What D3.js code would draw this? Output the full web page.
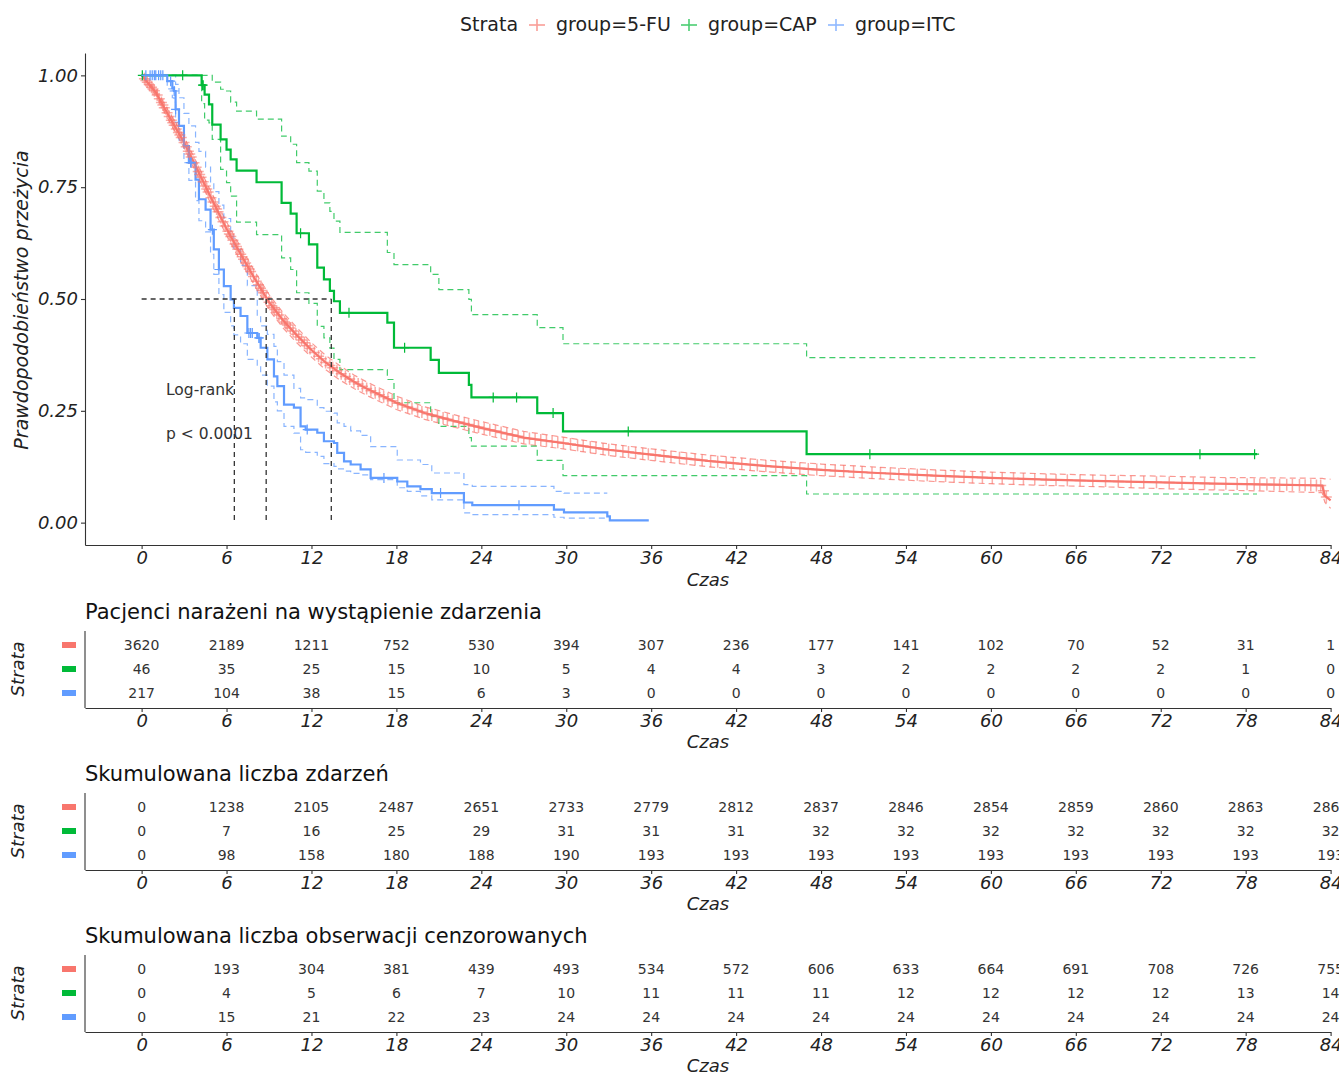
<!DOCTYPE html>
<html>
<head>
<meta charset="utf-8">
<script src="https://cdnjs.cloudflare.com/ajax/libs/d3/7.8.5/d3.min.js"></script>
<style>
  body { margin: 0; background: #fff; }
  svg { display: block; font-family: "DejaVu Sans", sans-serif; }
</style>
</head>
<body>
<svg id="chart" width="1339" height="1073"></svg>
<script>
// ---- data ----
const strata = ['group=5-FU', 'group=CAP', 'group=ITC'];
const timeTicks = [0, 6, 12, 18, 24, 30, 36, 42, 48, 54, 60, 66, 72, 78, 84];
const survTicks = [0, 0.25, 0.5, 0.75, 1];

// 5-FU (large group, curve looks smooth)
const fuTime  = [0, 1, 2, 3, 4, 5, 6, 7, 8, 9, 10, 11, 12, 13, 14, 15, 16, 18, 20, 22, 24, 27, 30, 33, 36, 40, 44, 48, 52, 56, 60, 64, 68, 72, 76, 80, 83.4, 83.6, 84];
const fuSurv  = [1, 0.962, 0.905, 0.85, 0.785, 0.72, 0.657, 0.6, 0.545, 0.493, 0.452, 0.418, 0.386, 0.358, 0.335, 0.315, 0.298, 0.268, 0.245, 0.228, 0.212, 0.19, 0.177, 0.163, 0.152, 0.138, 0.127, 0.118, 0.111, 0.105, 0.1, 0.096, 0.093, 0.09, 0.087, 0.085, 0.083, 0.06, 0.05];
const fuUpper = [1, 0.968, 0.915, 0.862, 0.798, 0.734, 0.672, 0.616, 0.561, 0.51, 0.469, 0.435, 0.402, 0.374, 0.351, 0.33, 0.313, 0.283, 0.259, 0.242, 0.226, 0.204, 0.19, 0.176, 0.165, 0.151, 0.14, 0.131, 0.124, 0.118, 0.113, 0.109, 0.106, 0.104, 0.101, 0.1, 0.099, 0.098, 0.097];
const fuLower = [1, 0.956, 0.895, 0.838, 0.772, 0.706, 0.642, 0.584, 0.529, 0.476, 0.435, 0.401, 0.37, 0.342, 0.319, 0.3, 0.283, 0.253, 0.231, 0.214, 0.198, 0.176, 0.164, 0.15, 0.139, 0.125, 0.114, 0.105, 0.098, 0.092, 0.087, 0.083, 0.08, 0.076, 0.073, 0.07, 0.067, 0.045, 0.032];
const fuCensor = [0.2, 0.3, 0.4, 0.55, 0.7, 0.8, 0.9, 1.1, 1.25, 1.4, 1.5, 1.6, 1.8, 1.95, 2.1, 2.2, 2.3, 2.45, 2.6, 2.7, 2.8, 3.0, 3.15, 3.3, 3.4, 3.5, 3.7, 3.85, 4.0, 4.1, 4.2, 4.35, 4.5, 4.6, 4.7, 4.9, 5.05, 5.2, 5.3, 5.4, 5.6, 5.75, 5.9,
  6.1, 6.2, 6.3, 6.45, 6.6, 6.7, 6.8, 7.0, 7.1, 7.2, 7.35, 7.5, 7.6, 7.7, 7.9, 8.1, 8.25, 8.4, 8.5, 8.6, 8.8, 9.0, 9.2, 9.3, 9.4, 9.55, 9.7, 9.9, 10.1, 10.2, 10.3, 10.5, 10.7, 10.9, 11.1, 11.3, 11.5, 11.7, 11.9,
  12.2, 12.5, 12.7, 13.0, 13.3, 13.5, 13.8, 14.1, 14.4, 14.7, 15.0, 15.3, 15.6, 15.9, 16.2, 16.5, 16.8, 17.1, 17.4, 17.7,
  18.1, 18.4, 18.8, 19.1, 19.5, 19.8, 20.2, 20.5, 20.9, 21.3, 21.6, 22.0, 22.4, 22.8, 23.1, 23.5, 23.8,
  24.2, 24.6, 25.0, 25.4, 25.8, 26.2, 26.6, 27.0, 27.4, 27.8, 28.2, 28.6, 29.0, 29.4, 29.8,
  30.3, 30.8, 31.2, 31.7, 32.1, 32.6, 33.0, 33.5, 34.0, 34.4, 34.9, 35.4, 35.8,
  36.3, 36.9, 37.4, 38.0, 38.5, 39.1, 39.6, 40.2, 40.7, 41.3, 41.8,
  42.4, 43.0, 43.5, 44.1, 44.8, 45.3, 45.9, 46.5, 47.1, 47.7,
  48.3, 49.0, 49.6, 50.3, 50.9, 51.6, 52.2, 52.9, 53.5,
  54.2, 54.8, 55.5, 56.1, 56.8, 57.4, 58.1, 58.7, 59.4,
  60.1, 60.8, 61.6, 62.3, 63.1, 63.9, 64.6, 65.4,
  66.3, 67.2, 68.1, 69.0, 69.9, 70.8, 71.7,
  72.6, 73.5, 74.3, 75.1, 75.8, 76.6, 77.4,
  78.1, 78.6, 79.0, 79.5, 80.0, 80.4, 80.9, 81.3, 81.8, 82.2, 82.6, 83.0, 83.3, 83.5, 83.7];

// CAP (step curve)
const capTime  = [0, 4.24, 4.45, 4.76, 4.99, 5.58, 6.0, 6.29, 6.71, 8.12, 9.89, 10.53, 10.95, 11.82, 12.41, 12.88, 13.3, 13.59, 14.01, 17.36, 17.83, 20.42, 21.0, 23.12, 23.3, 27.95, 29.77, 46.98, 78.8];
const capSurv  = [1, 0.978, 0.957, 0.935, 0.89, 0.857, 0.834, 0.812, 0.787, 0.761, 0.715, 0.691, 0.647, 0.622, 0.57, 0.544, 0.518, 0.495, 0.469, 0.447, 0.391, 0.364, 0.335, 0.308, 0.28, 0.245, 0.204, 0.153, 0.153];
const capUpper = [1, 1, 1, 1, 0.985, 0.969, 0.965, 0.94, 0.92, 0.902, 0.864, 0.846, 0.805, 0.786, 0.741, 0.715, 0.696, 0.674, 0.649, 0.604, 0.577, 0.555, 0.521, 0.499, 0.465, 0.436, 0.4, 0.369, 0.369];
const capLower = [1, 0.937, 0.9, 0.894, 0.857, 0.79, 0.76, 0.73, 0.672, 0.644, 0.592, 0.566, 0.514, 0.49, 0.439, 0.413, 0.39, 0.365, 0.342, 0.32, 0.268, 0.238, 0.215, 0.19, 0.171, 0.139, 0.105, 0.064, 0.064];
const capCensor = [0.05, 2.9, 4.3, 4.35, 11.23, 14.65, 18.58, 24.84, 26.49, 29.07, 34.38, 51.45, 74.77, 78.63];

// ITC (step curve)
const itcTime  = [0, 1.81, 2.17, 2.29, 2.4, 2.64, 2.99, 3.34, 3.81, 4.05, 4.52, 4.87, 5.1, 5.46, 5.81, 6.29, 6.52, 6.99, 7.47, 8.17, 8.41, 8.88, 9.35, 9.59, 10.06, 10.76, 11.23, 11.59, 12.41, 12.88, 13.59, 13.82, 14.3, 14.77, 15.47, 16.18, 18.06, 18.77, 19.7, 20.5, 22.77, 23.36, 29.13, 29.84, 32.9, 33.08, 35.83];
const itcSurv  = [1, 0.987, 0.972, 0.965, 0.924, 0.887, 0.842, 0.805, 0.767, 0.723, 0.7, 0.655, 0.611, 0.566, 0.529, 0.499, 0.48, 0.462, 0.424, 0.413, 0.391, 0.365, 0.327, 0.305, 0.264, 0.257, 0.215, 0.208, 0.201, 0.182, 0.178, 0.156, 0.137, 0.13, 0.119, 0.1, 0.092, 0.081, 0.075, 0.066, 0.045, 0.039, 0.029, 0.023, 0.014, 0.005, 0.005];
const itcUpper = [1, 1, 1, 1, 0.98, 0.95, 0.915, 0.887, 0.85, 0.83, 0.795, 0.76, 0.74, 0.71, 0.68, 0.64, 0.611, 0.575, 0.53, 0.46, 0.44, 0.421, 0.394, 0.36, 0.33, 0.3, 0.279, 0.275, 0.257, 0.249, 0.245, 0.223, 0.215, 0.205, 0.195, 0.17, 0.14, 0.14, 0.13, 0.111, 0.085, 0.081, 0.07, 0.066, 0.066, null, null];
const itcLower = [1, 0.97, 0.95, 0.94, 0.895, 0.855, 0.805, 0.765, 0.72, 0.675, 0.65, 0.6, 0.555, 0.51, 0.47, 0.44, 0.42, 0.4, 0.365, 0.352, 0.33, 0.305, 0.27, 0.25, 0.215, 0.2, 0.163, 0.157, 0.148, 0.132, 0.126, 0.12, 0.115, 0.11, 0.107, 0.096, 0.078, 0.07, 0.06, 0.051, 0.022, 0.018, 0.012, 0.01, 0.01, null, null];
const itcCensor = [0.3, 0.6, 0.75, 0.9, 1.0, 1.2, 1.35, 1.5, 2.05, 2.3, 2.4, 3.46, 3.5, 5.0, 5.46, 7.58, 7.7, 7.82, 8.29, 8.3, 11.7, 17.12, 21.12, 26.66];

const medianTimes = [8.8, 13.4, 6.55];

// tables under the plot
const atRisk = [
  [3620, 2189, 1211, 752, 530, 394, 307, 236, 177, 141, 102, 70, 52, 31, 1],
  [46, 35, 25, 15, 10, 5, 4, 4, 3, 2, 2, 2, 2, 1, 0],
  [217, 104, 38, 15, 6, 3, 0, 0, 0, 0, 0, 0, 0, 0, 0]
];
const cumEvents = [
  [0, 1238, 2105, 2487, 2651, 2733, 2779, 2812, 2837, 2846, 2854, 2859, 2860, 2863, 2864],
  [0, 7, 16, 25, 29, 31, 31, 31, 32, 32, 32, 32, 32, 32, 32],
  [0, 98, 158, 180, 188, 190, 193, 193, 193, 193, 193, 193, 193, 193, 193]
];
const cumCensored = [
  [0, 193, 304, 381, 439, 493, 534, 572, 606, 633, 664, 691, 708, 726, 755],
  [0, 4, 5, 6, 7, 10, 11, 11, 11, 12, 12, 12, 12, 13, 14],
  [0, 15, 21, 22, 23, 24, 24, 24, 24, 24, 24, 24, 24, 24, 24]
];

const colors = ['#F8766D', '#00BA38', '#619CFF'];

// ---- drawing ----
const svg = d3.select('#chart');
const x = d3.scaleLinear().domain([-4, 84]).range([85, 1330.6]);
const y = d3.scaleLinear().domain([-0.05, 1.05]).range([545, 53]);

function styleAxis(g) {
  g.attr('font-family', '"DejaVu Sans", sans-serif')
    .attr('font-size', 18)
    .attr('font-style', 'italic');
  g.select('.domain').attr('stroke', '#333').attr('stroke-width', 1.1);
  g.selectAll('.tick line').attr('stroke', '#333').attr('stroke-width', 1.1);
  g.selectAll('.tick text').attr('fill', '#222');
}

// legend on top
const leg = svg.append('g').attr('font-size', 19).attr('fill', '#222');
leg.append('text').attr('x', 460).attr('y', 31).text('Strata');
const keyX = [537, 689, 836];
const labelX = [556, 708, 855];
strata.forEach((s, i) => {
  const k = leg.append('g').attr('transform', `translate(${keyX[i]},25)`)
    .attr('stroke', colors[i]).attr('stroke-width', 1.6).attr('opacity', 0.7);
  k.append('line').attr('x1', -8).attr('x2', 8);
  k.append('line').attr('y1', -6).attr('y2', 6);
  leg.append('text').attr('x', labelX[i]).attr('y', 31).text(s);
});

// main axes
svg.append('g').attr('transform', 'translate(0,545)')
  .call(d3.axisBottom(x).tickValues(timeTicks).tickSize(4).tickSizeOuter(0).tickPadding(2))
  .call(styleAxis);
svg.append('g').attr('transform', 'translate(85,0)')
  .call(d3.axisLeft(y).tickValues(survTicks).tickFormat(d3.format('.2f')).tickSize(4).tickSizeOuter(0).tickPadding(3))
  .call(styleAxis);

svg.append('text').attr('x', 708).attr('y', 586).attr('text-anchor', 'middle')
  .attr('font-size', 18).attr('font-style', 'italic').attr('fill', '#222').text('Czas');
svg.append('text').attr('transform', 'translate(28,300) rotate(-90)').attr('text-anchor', 'middle')
  .attr('font-size', 19).attr('font-style', 'italic').attr('fill', '#222').text('Prawdopodobieństwo przeżycia');

const series = [
  { time: fuTime, surv: fuSurv, upper: fuUpper, lower: fuLower, censor: fuCensor, curve: d3.curveLinear, markOpacity: 0.6, mark: 'M-5.5,0H5.5M0,-6V6', markW: 1.5 },
  { time: capTime, surv: capSurv, upper: capUpper, lower: capLower, censor: capCensor, curve: d3.curveStepAfter, markOpacity: 1, mark: 'M-4.5,0H4.5M0,-5V5', markW: 1.2 },
  { time: itcTime, surv: itcSurv, upper: itcUpper, lower: itcLower, censor: itcCensor, curve: d3.curveStepAfter, markOpacity: 1, mark: 'M-4.5,0H4.5M0,-5V5', markW: 1.2 }
];

const plot = svg.append('g');

// confidence bands (dashed)
series.forEach((s, i) => {
  const line = d3.line().defined(d => d[1] != null)
    .x(d => x(d[0])).y(d => y(d[1])).curve(s.curve);
  [s.upper, s.lower].forEach(band => {
    plot.append('path')
      .datum(s.time.map((t, j) => [t, band[j]]))
      .attr('d', line)
      .attr('fill', 'none')
      .attr('stroke', colors[i])
      .attr('stroke-width', 1.2)
      .attr('stroke-dasharray', '6,4')
      .attr('opacity', 0.75);
  });
});

// survival curves
series.forEach((s, i) => {
  const line = d3.line().x(d => x(d[0])).y(d => y(d[1])).curve(s.curve);
  plot.append('path')
    .datum(s.time.map((t, j) => [t, s.surv[j]]))
    .attr('d', line)
    .attr('fill', 'none')
    .attr('stroke', colors[i])
    .attr('stroke-width', 2.2);
});

// censor marks (+)
series.forEach((s, i) => {
  const survAt = s.curve === d3.curveLinear
    ? d3.scaleLinear().domain(s.time).range(s.surv)
    : t => s.surv[Math.max(0, d3.bisectRight(s.time, t) - 1)];
  plot.append('g')
    .selectAll('path')
    .data(s.censor)
    .join('path')
    .attr('transform', t => `translate(${x(t)},${y(survAt(t))})`)
    .attr('d', s.mark)
    .attr('stroke', colors[i])
    .attr('stroke-width', s.markW)
    .attr('opacity', s.markOpacity);
});

// median lines
const medG = plot.append('g').attr('stroke', '#333').attr('stroke-width', 1.3)
  .attr('stroke-dasharray', '5,4').attr('fill', 'none');
medG.append('line').attr('x1', x(0)).attr('x2', x(d3.max(medianTimes)))
  .attr('y1', y(0.5)).attr('y2', y(0.5));
medG.selectAll('line.v').data(medianTimes).join('line').attr('class', 'v')
  .attr('x1', d => x(d)).attr('x2', d => x(d))
  .attr('y1', y(0.5)).attr('y2', y(0));

// log-rank text
svg.append('text').attr('x', 166).attr('y', 395).attr('font-size', 15.5).attr('fill', '#333').text('Log-rank');
svg.append('text').attr('x', 166).attr('y', 439).attr('font-size', 15.5).attr('fill', '#333').text('p < 0.0001');

// ---- tables ----
const tables = [
  { title: 'Pacjenci narażeni na wystąpienie zdarzenia', values: atRisk, top: 0 },
  { title: 'Skumulowana liczba zdarzeń', values: cumEvents, top: 162 },
  { title: 'Skumulowana liczba obserwacji cenzorowanych', values: cumCensored, top: 324 }
];

tables.forEach(tb => {
  const g = svg.append('g').attr('transform', `translate(0,${tb.top})`);
  const row = d3.scalePoint().domain(strata).range([645, 693]);

  g.append('text').attr('x', 85).attr('y', 619).attr('font-size', 21).attr('fill', '#111').text(tb.title);

  g.append('line').attr('x1', 85).attr('x2', 85).attr('y1', 631).attr('y2', 708)
    .attr('stroke', '#333').attr('stroke-width', 1.1);

  g.append('g').attr('transform', 'translate(0,708)')
    .call(d3.axisBottom(x).tickValues(timeTicks).tickSize(4).tickSizeOuter(0).tickPadding(2))
    .call(styleAxis);

  g.append('text').attr('x', 708).attr('y', 748).attr('text-anchor', 'middle')
    .attr('font-size', 18).attr('font-style', 'italic').attr('fill', '#222').text('Czas');

  g.append('text').attr('transform', 'translate(24,669) rotate(-90)').attr('text-anchor', 'middle')
    .attr('font-size', 18).attr('font-style', 'italic').attr('fill', '#222').text('Strata');

  g.selectAll('rect.key').data(strata).join('rect').attr('class', 'key')
    .attr('x', 62).attr('y', d => row(d) - 3).attr('width', 14).attr('height', 6)
    .attr('fill', (d, i) => colors[i]);

  strata.forEach((s, i) => {
    g.append('g').selectAll('text')
      .data(tb.values[i])
      .join('text')
      .attr('x', (d, j) => x(timeTicks[j]))
      .attr('y', row(s))
      .attr('dy', '0.35em')
      .attr('text-anchor', 'middle')
      .attr('font-size', 14)
      .attr('fill', '#333')
      .text(d => d);
  });
});
</script>
</body>
</html>
